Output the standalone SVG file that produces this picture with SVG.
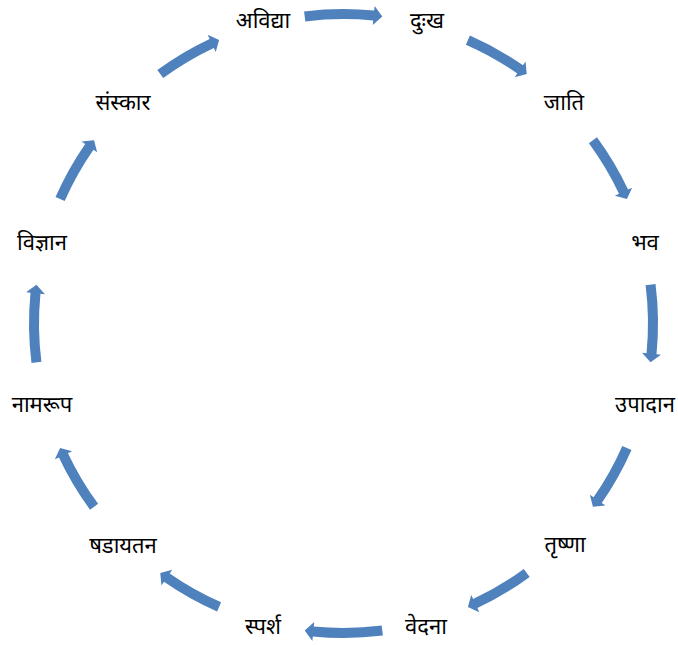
<svg xmlns="http://www.w3.org/2000/svg" xmlns:xlink="http://www.w3.org/1999/xlink" width="678" height="645" viewBox="0 0 678 645">
<style>
text{font-family:"Noto Sans Devanagari","Noto Sans","Lohit Devanagari",sans-serif;font-size:22px;fill:#000;text-anchor:middle}
.arr{fill:#4F81BD}
</style>
<defs>
<path id="arr" class="arr" d="M -39.42 -312.02 A 314.5 314.5 0 0 1 30.69 -313.0 L 31.13 -317.48 L 38.79 -307.06 L 29.27 -298.57 L 29.71 -303.05 A 304.5 304.5 0 0 0 -38.16 -302.10 Z"/>
<path id="arrd" class="arr" d="M -34.51 -312.60 A 314.5 314.5 0 0 1 26.32 -313.40 L 26.69 -317.88 L 33.96 -307.63 L 25.10 -298.95 L 25.48 -303.43 A 304.5 304.5 0 0 0 -33.41 -302.66 Z"/>
</defs>
<rect width="678" height="645" fill="#fff"/>
<g id="connectors" transform="translate(343.5 323.5)">
<use href="#arr" xlink:href="#arr"/>
<use href="#arrd" xlink:href="#arrd" transform="rotate(30)"/>
<use href="#arrd" xlink:href="#arrd" transform="rotate(60)"/>
<use href="#arr" xlink:href="#arr" transform="rotate(90)"/>
<use href="#arrd" xlink:href="#arrd" transform="rotate(120)"/>
<use href="#arrd" xlink:href="#arrd" transform="rotate(150)"/>
<use href="#arr" xlink:href="#arr" transform="rotate(180)"/>
<use href="#arrd" xlink:href="#arrd" transform="rotate(210)"/>
<use href="#arrd" xlink:href="#arrd" transform="rotate(240)"/>
<use href="#arr" xlink:href="#arr" transform="rotate(270)"/>
<use href="#arrd" xlink:href="#arrd" transform="rotate(300)"/>
<use href="#arrd" xlink:href="#arrd" transform="rotate(330)"/>
</g>
<g id="n1"><text x="263" y="28">अविद्या</text></g>
<g id="n2"><text x="427" y="28">दुःख</text></g>
<g id="n3"><text x="564" y="110">जाति</text></g>
<g id="n4"><text x="645" y="250">भव</text></g>
<g id="n5"><text x="645" y="412">उपादान</text></g>
<g id="n6"><text x="565" y="552">तृष्णा</text></g>
<g id="n7"><text x="426" y="634">वेदना</text></g>
<g id="n8"><text x="263" y="634">स्पर्श</text></g>
<g id="n9"><text x="123" y="553">षडायतन</text></g>
<g id="n10"><text x="42" y="412">नामरूप</text></g>
<g id="n11"><text x="42" y="250">विज्ञान</text></g>
<g id="n12"><text x="123" y="110">संस्कार</text></g>
</svg>
